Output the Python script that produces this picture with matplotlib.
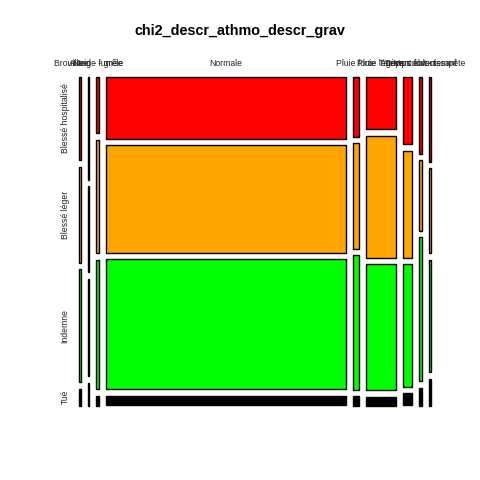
import matplotlib
matplotlib.use("Agg")
import matplotlib.pyplot as plt
from matplotlib.patches import Rectangle
import numpy as np

plt.rcParams['font.family'] = ['Liberation Sans', 'DejaVu Sans']

title = "chi2_descr_athmo_descr_grav"
atmo = ["Autre", "Brouillard - fumée", "Neige - grêle", "Normale", "Pluie forte",
        "Pluie légère", "Temps couvert", "Temps éblouissant", "Vent fort - tempête"]
grav = ["Blessé hospitalisé", "Blessé léger", "Indemne", "Tué"]
colors = ["#FF0000", "#FFA500", "#00FF00", "#000000"]

# counts per atmospheric condition (columns) for each gravity level (rows)
bless_hosp = [20, 18, 18, 1627, 39, 172, 71, 22, 19]
bless_leger = [23, 15, 36, 2800, 68, 399, 112, 20, 19]
indemne = [27, 17, 41, 3400, 87, 411, 128, 41, 25]
tue = [4, 4, 3, 253, 6, 28, 13, 5, 6]

counts = np.array([bless_hosp, bless_leger, indemne, tue], dtype=float)  # rows x cols

fig = plt.figure(figsize=(4.8, 4.8), dpi=100)
W, H = 480.0, 480.0
x0, x1 = 78.5, 431.0
y_top, y_bot = 76.5, 405.5
ax = fig.add_axes([x0 / W, 1 - y_bot / H, (x1 - x0) / W, (y_bot - y_top) / H])
ax.set_xlim(0, 1)
ax.set_ylim(1, 0)
ax.axis('off')

ncol = counts.shape[1]
nrow = counts.shape[0]
offx = 2 * (ncol - 1) / 100.0
offy = 2 * (nrow - 1) / 100.0
colprop = counts.sum(axis=0) / counts.sum()
whitex = offx / max(1, ncol - 1)
whitey = offy / max(1, nrow - 1)

xl = 0.0
for j in range(ncol):
    w = (1 - offx) * colprop[j]
    rowprop = counts[:, j] / counts[:, j].sum()
    yt = 0.0
    for i in range(nrow):
        h = (1 - offy) * rowprop[i]
        ax.add_patch(Rectangle((xl, yt), w, h, facecolor=colors[i], edgecolor='black',
                               linewidth=1.0, clip_on=False))
        if j == 0:
            ax.text(-13.5 / (x1 - x0), yt + h / 2, grav[i], rotation=90, ha='center', va='center',
                    fontsize=6.2, color='#222222', clip_on=False)
        yt += h + whitey
    ax.text(xl + w / 2, -12.5 / (y_bot - y_top), atmo[j], ha='center', va='center',
            fontsize=6.2, color='#222222', clip_on=False)
    xl += w + whitex

fig.text(0.5, 1 - 31 / H, title, ha='center', va='center', fontsize=10.4, fontweight='bold')

fig.savefig("out.png", dpi=100)
